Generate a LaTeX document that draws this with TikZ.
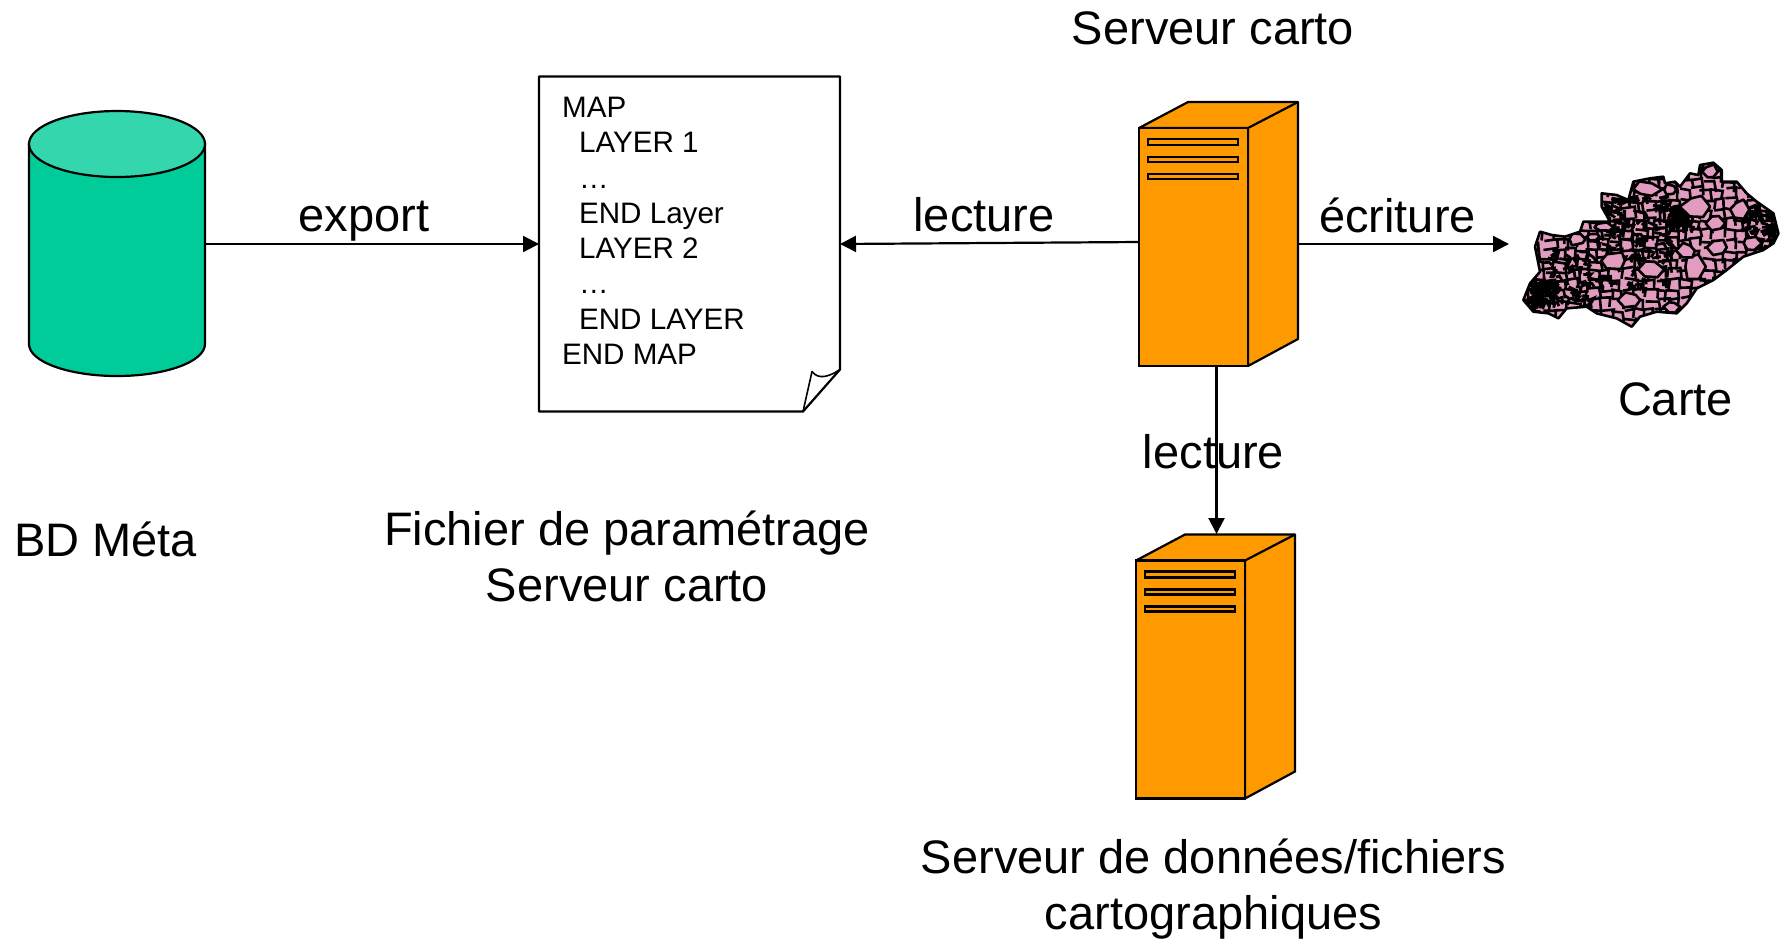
\documentclass[tikz,border=0pt]{standalone}
\usepackage{fontspec}
\setmainfont{Liberation Sans}
\usetikzlibrary{
	positioning,
	arrows.meta,
	shapes.geometric
}
\definecolor{bdgreen}{HTML}{00CC99}
\definecolor{bdtop}{HTML}{33D6AD}
\definecolor{srvorange}{HTML}{FF9900}
\definecolor{mappink}{HTML}{E29CC0}
\tikzset{
	caption/.style={font=\fontsize{23.5}{28}\selectfont, align=center, inner sep=0pt},
	srvfront/.style={draw, fill=srvorange, minimum width=54.5pt, minimum height=119pt, inner sep=0pt, outer sep=0pt},
	mapcell/.style={draw=black, fill=mappink, line join=round}
}
\newcommand{\carteoutline}{(130,480) -- (150,430) -- (180,395) -- (165,320) -- (180,275) -- (215,285) -- (255,290) -- (300,275) -- (310,245) -- (390,245) -- (365,200) -- (365,160) -- (410,165) -- (445,180) -- (460,125) -- (510,115) -- (550,110) -- (555,130) -- (585,125) -- (600,140) -- (630,100) -- (655,105) -- (660,75) -- (700,68) -- (725,90) -- (725,125) -- (770,125) -- (800,160) -- (830,185) -- (880,220) -- (895,280) -- (880,310) -- (850,330) -- (790,350) -- (740,390) -- (700,420) -- (650,445) -- (620,490) -- (590,520) -- (530,515) -- (480,530) -- (455,560) -- (410,535) -- (350,520) -- (320,500) -- (260,505) -- (235,535) -- (205,520) -- (160,515) -- cycle}

\begin{document}
\begin{tikzpicture}[
		x=.5pt,
		y=-.5pt,
		line width=1.1pt,
		>={Triangle[length=8pt,width=8pt]},
		->
		]
		\useasboundingbox (0,0) rectangle (1780,939);
		
		% base meta
		\node[minimum width=88pt, minimum height=100pt, inner sep=0pt, outer sep=0pt] (bd) at (117,244) {};
		\draw[-, fill=bdgreen] (bd.north west) -- (bd.south west) arc[start angle=180, end angle=360, x radius=44pt, y radius=16pt] -- (bd.north east) -- cycle;
		\draw[-, fill=bdtop] (bd.north) ellipse[x radius=44pt, y radius=16.5pt];
		\node[caption] (bdname) at (105.5,539) {BD Méta};
		
		% fichier de parametrage
		\node[minimum width=150.5pt, minimum height=167.5pt, inner sep=0pt, outer sep=0pt] (doc) at (689.5,244) {};
		\coordinate (foldtop) at ([yshift=21pt]doc.south east);
		\coordinate (foldbot) at ([xshift=-18.5pt]doc.south east);
		\draw[-, line join=round] (doc.north west) -- (doc.north east) -- (foldtop) -- (foldbot) -- (doc.south west) -- cycle;
		\draw[-, line width=.8pt, line join=round] (foldbot) -- ([shift={(-28,-40)}]doc.south east) .. controls ([shift={(-22,-32)}]doc.south east) and ([shift={(-12,-34)}]doc.south east) .. (foldtop);
		\node[anchor=north west, align=left, inner sep=0pt, font=\fontsize{14.8}{17.65}\selectfont] (doctext) at (561,96) {MAP\\
			\hspace*{8.5pt}LAYER 1\\
			\hspace*{8.5pt}…\\
			\hspace*{8.5pt}END Layer\\
			\hspace*{8.5pt}LAYER 2\\
			\hspace*{8.5pt}…\\
			\hspace*{8.5pt}END LAYER\\
			END MAP};
		\node[caption] (docname) at (627,556) {Fichier de paramétrage\\Serveur carto};
		
		% serveurs
		\foreach \n/\x/\y in {carto/1193.5/247, data/1190.5/679.5} {
			\draw[-, fill=srvorange, line join=round] (\x-54.5,\y-119) -- ++(49,-26) -- ++(110,0) -- ++(0,237) -- (\x+54.5,\y+119) -- (\x+54.5,\y-119) -- cycle;
			\draw[-] (\x+54.5,\y-119) -- ++(50,-26);
			\node[srvfront, -] (srv\n) at (\x,\y) {};
			\foreach \s/\h in {11/6, 29/5, 46/5} {
				\draw[-] ([shift={(9,\s)}]srv\n.north west) rectangle ++(90,\h);
			}
		}
		\node[caption] (cartoname) at (1213,28) {Serveur carto};
		\node[caption] (dataname) at (1213.5,889) {Serveur de données/fichiers\\cartographiques};
		
		% carte
		\begin{scope}[shift={(1480,140)}, x=.16667pt, y=-.16667pt, -, line width=1.3pt]
			\fill[mappink] \carteoutline;
			\begin{scope}
				\clip \carteoutline;
				\pgfmathsetseed{17}
				\foreach \x in {120,154,...,900} {
					\foreach \y in {60,90,...,570} {
						\draw (\x+rand*8,\y+rand*7) -- ++(34+rand*6,rand*6) -- ++(rand*6,30+rand*6);
					}
				}
				% zones denses
				\foreach \x/\y/\w/\h in {370/170/190/130, 180/330/150/170, 330/300/230/140, 780/200/100/120, 140/420/60/70, 560/200/60/60} {
					\foreach \i in {0,1,...,60} {
						\draw[line width=1.4pt] (\x+\w*rnd,\y+\h*rnd) -- ++(15+rand*12,rand*10) -- ++(rand*10,14+rand*10);
					}
				}
				% grandes mailles
				\foreach \cx/\cy/\rx/\ry in {650/200/40/38, 400/362/40/26, 510/388/38/26, 640/380/30/34, 620/332/30/22, 705/250/28/20, 780/208/28/30, 290/297/28/18, 500/148/40/22, 450/480/34/24, 575/500/20/18, 812/310/28/22, 715/322/28/24, 340/290/20/12, 690/95/22/20, 570/150/18/16, 370/262/28/14} {
					\draw[mapcell] plot[domain=0:300, samples=6] ({\cx+\rx*cos(\x)*(1+rand*.3)},{\cy+\ry*sin(\x)*(1+rand*.3)}) -- cycle;
				}
			\end{scope}
			\draw[line join=round] \carteoutline;
		\end{scope}
		\coordinate (carte) at (1509,244);
		\node[caption] (cartename) at (1675.5,399) {Carte};
		
		% liens
		\coordinate (cartoout) at (1298,244);
		\path (bd.east) edge (doc.west);
		\path ([yshift=2.5pt]srvcarto.west) edge (doc.east);
		\path (cartoout) edge (carte);
		\path ([xshift=11.5pt]srvcarto.south) edge ([xshift=13pt]srvdata.north |- 0,534);
		\node[caption] (lblexport) at (364,221.5) {export};
		\node[caption] (lbllecture) at (984,215) {lecture};
		\node[caption] (lblecriture) at (1397.5,215) {écriture};
		\node[caption] (lbllecturebis) at (1213.5,452) {lecture};
		
	\end{tikzpicture}
\end{document}
